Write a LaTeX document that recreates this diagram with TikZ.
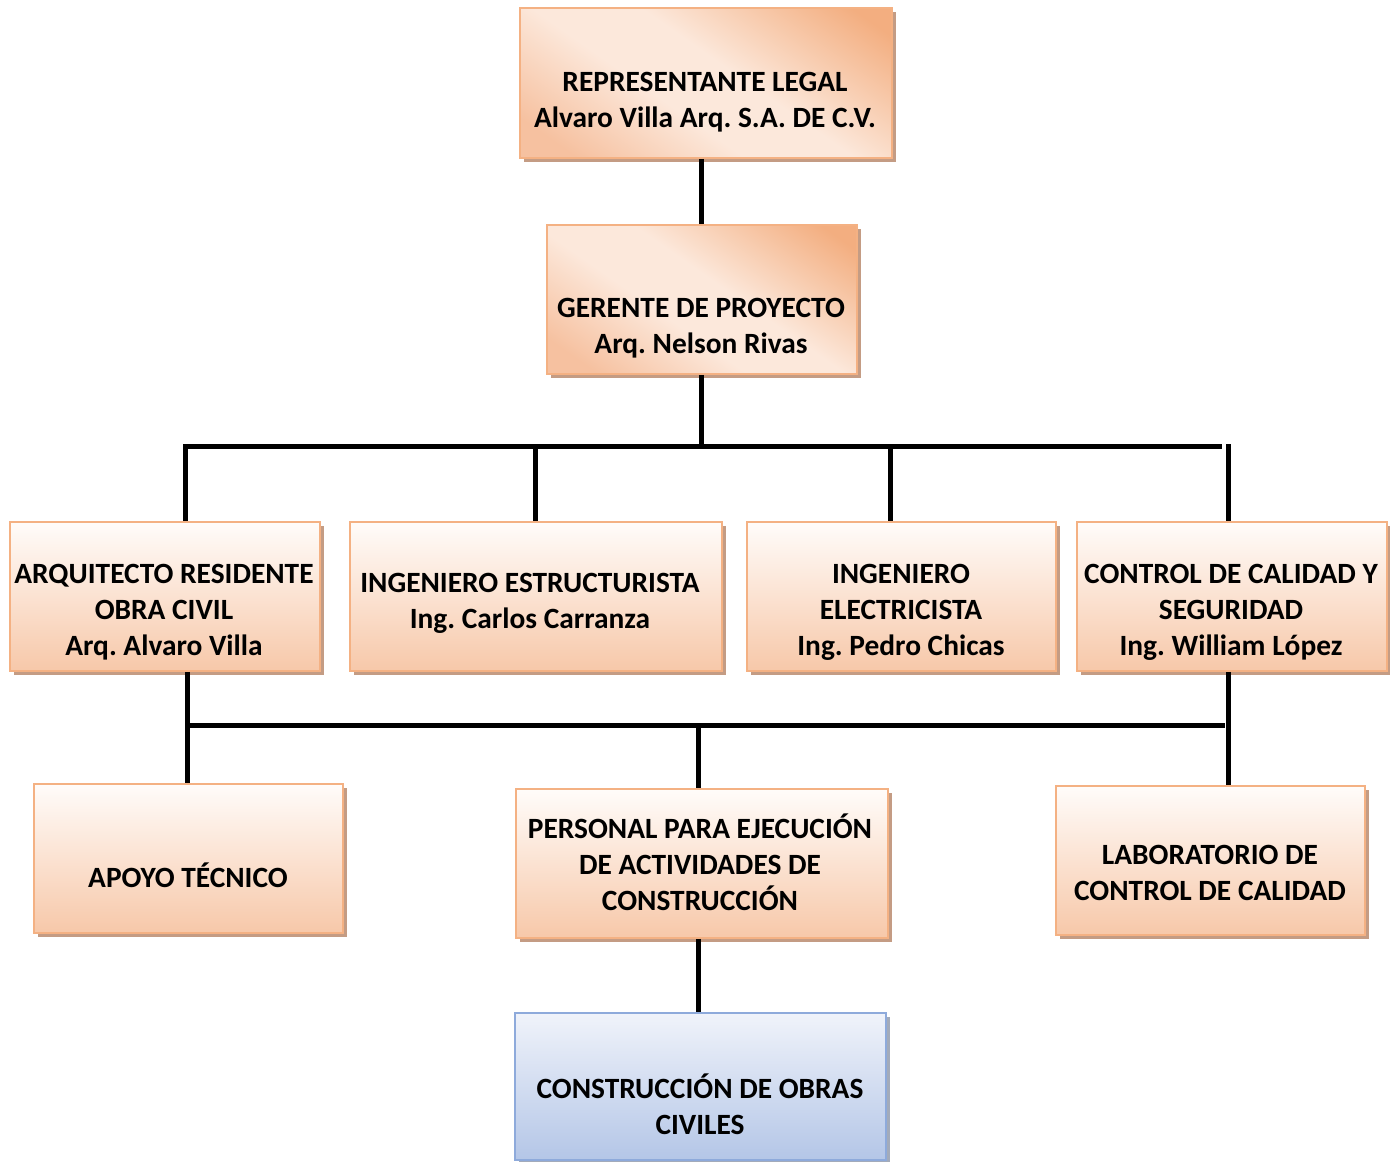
\documentclass[tikz,border=0pt]{standalone}
\usepackage{fontspec}
\setmainfont{Carlito}
\usetikzlibrary{shadows}
\frenchspacing
\definecolor{orgB}{HTML}{F4B183}
\definecolor{orgD}{HTML}{F3AE80}
\definecolor{orgM}{HTML}{F6C1A0}
\definecolor{orgL}{HTML}{FCE8DB}
\definecolor{orgBot}{HTML}{F7C8A9}
\definecolor{orgTop}{HTML}{FFFCFA}
\definecolor{shOrg}{HTML}{C49C84}
\definecolor{bluB}{HTML}{8EAADB}
\definecolor{bluTop}{HTML}{F0F3FA}
\definecolor{bluBot}{HTML}{B4C6E7}
\definecolor{shBlu}{HTML}{A3ABBA}
\pgfdeclareverticalshading{headshade}{100bp}{color(0bp)=(orgM); color(22bp)=(orgM); color(42bp)=(orgL); color(55bp)=(orgL); color(80bp)=(orgD); color(100bp)=(orgD)}
\begin{document}
\begin{tikzpicture}[x=1pt,y=-1pt,
  base/.style={rectangle, inner sep=0pt, line width=1.6pt},
  headbox/.style={base, draw=orgB, shading=headshade, shading angle=-35,
     drop shadow={shadow xshift=4pt, shadow yshift=-4pt, fill=shOrg, opacity=1}},
  orgbox/.style={base, draw=orgB, top color=orgTop, bottom color=orgBot,
     drop shadow={shadow xshift=4pt, shadow yshift=-4pt, fill=shOrg, opacity=1}},
  blubox/.style={base, draw=bluB, top color=bluTop, bottom color=bluBot,
     drop shadow={shadow xshift=4pt, shadow yshift=-4pt, fill=shBlu, opacity=1}},
  lbl/.style={align=center, inner sep=0pt, font=\fontsize{29.4}{36}\selectfont\bfseries},
  conn/.style={line width=5pt, black}]
\useasboundingbox (0,0) rectangle (1390,1162);

% boxes
\node[headbox, minimum width=372pt, minimum height=150pt] (rep) at (706,83) {};
\node[headbox, minimum width=310pt, minimum height=149pt] (ger) at (702,299.5) {};
\node[orgbox, minimum width=310pt, minimum height=149pt] (arq) at (165,596.5) {};
\node[orgbox, minimum width=372pt, minimum height=149pt] (est) at (536,596.5) {};
\node[orgbox, minimum width=309pt, minimum height=149pt] (ele) at (901.5,596.5) {};
\node[orgbox, minimum width=310pt, minimum height=149pt] (cal) at (1232,596.5) {};
\node[orgbox, minimum width=309pt, minimum height=149pt] (apo) at (188.5,858.5) {};
\node[orgbox, minimum width=372pt, minimum height=149pt] (per) at (702,863.5) {};
\node[orgbox, minimum width=309pt, minimum height=149pt] (lab) at (1210.5,860.5) {};
\node[blubox, minimum width=371pt, minimum height=147pt] (obr) at (700.5,1086.5) {};

% labels
\node[lbl] (trep) at (705,102) {REPRESENTANTE LEGAL\\Alvaro Villa Arq. S.A. DE C.V.};
\node[lbl] (tger) at (701,328) {GERENTE DE PROYECTO\\Arq. Nelson Rivas};
\node[lbl] (tarq) at (164,612) {ARQUITECTO RESIDENTE\\OBRA CIVIL\\Arq. Alvaro Villa};
\node[lbl] (test) at (530,603.5) {INGENIERO ESTRUCTURISTA\\Ing. Carlos Carranza};
\node[lbl] (tele) at (901,612) {INGENIERO\\ELECTRICISTA\\Ing. Pedro Chicas};
\node[lbl] (tcal) at (1231,612) {CONTROL DE CALIDAD Y\\SEGURIDAD\\Ing. William López};
\node[lbl] (tapo) at (188,875) {APOYO TÉCNICO};
\node[lbl] (tper) at (700,862) {PERSONAL PARA EJECUCIÓN\\DE ACTIVIDADES DE\\CONSTRUCCIÓN};
\node[lbl] (tlab) at (1210,873) {LABORATORIO DE\\CONTROL DE CALIDAD};
\node[lbl] (tobr) at (700,1104) {CONSTRUCCIÓN DE OBRAS\\CIVILES};

% bus coordinates
\coordinate (b1L) at (184,446);
\coordinate (b1R) at (1222,446);
\coordinate (b1C) at (701,446);
\coordinate (b2L) at (187,725);
\coordinate (b2R) at (1225,725);
\coordinate (b2C) at (698,725);

% connectors
\draw[conn] (rep.south -| b1C) -- (ger.north -| b1C);
\draw[conn] (ger.south -| b1C) -- (b1C);
\draw[conn] (b1L) -- (b1R);
\draw[conn] (185,444) -- (arq.north -| 185,0);
\draw[conn] (535,444) -- (est.north -| 535,0);
\draw[conn] (890,444) -- (ele.north -| 890,0);
\draw[conn] (1228,444) -- (cal.north -| 1228,0);
\draw[conn] (b2L) -- (b2R);
\draw[conn] (arq.south -| b2L) -- (apo.north -| b2L);
\draw[conn] (b2C) -- (per.north -| b2C);
\draw[conn] (cal.south -| 1228,0) -- (lab.north -| 1228,0);
\draw[conn] (per.south -| b2C) -- (obr.north -| b2C);
\end{tikzpicture}
\end{document}
